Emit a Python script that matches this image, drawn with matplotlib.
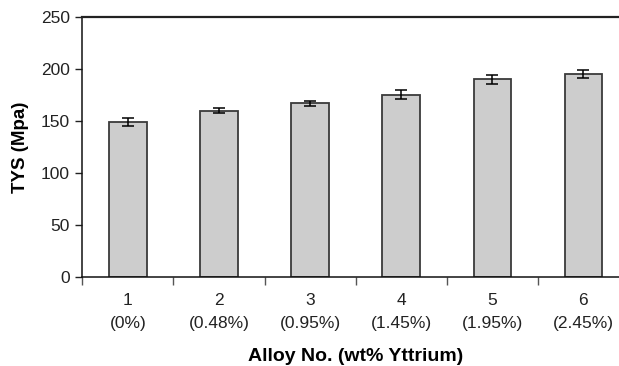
import numpy as np
import matplotlib.pyplot as plt
import matplotlib as mpl

mpl.rcParams['font.family'] = ['Liberation Sans', 'DejaVu Sans']

alloys = ['1', '2', '3', '4', '5', '6']
yttrium = ['0%', '0.48%', '0.95%', '1.45%', '1.95%', '2.45%']
tys = [149, 160, 167, 175, 190, 195]
tys_err = [4, 2.7, 2.5, 4.3, 4.3, 3.6]

fig = plt.figure(figsize=(6.19, 3.66), dpi=100)
# axes run slightly past the right edge of the figure
ax = fig.add_axes([82.3 / 619, 1 - 277.3 / 366, 546.6 / 619, 260.6 / 366])

x = np.arange(len(alloys))
ax.bar(x, tys, width=0.41, color='#cdcdcd', edgecolor='#3a3a3a', linewidth=1.3, zorder=2)
ax.errorbar(x, tys, yerr=tys_err, fmt='none', ecolor='black', elinewidth=1.1,
            capsize=4.5, capthick=1.1, zorder=3)

ax.set_xlim(-0.5, len(alloys) - 0.5)
ax.set_ylim(0, 250)
ax.set_yticks(range(0, 251, 50))

ax.set_xticks(x)
ax.set_xticklabels([a + '\n(' + p + ')' for a, p in zip(alloys, yttrium)], linespacing=1.7)
ax.set_xticks(np.arange(-0.5, len(alloys), 1), minor=True)
ax.tick_params(axis='x', which='major', length=0, pad=11, labelsize=12.5, colors='#222222')
ax.tick_params(axis='x', which='minor', length=6, width=1, direction='out', color='#555555')
ax.tick_params(axis='y', length=5, width=1, direction='out', labelsize=12.5, pad=4, colors='#222222')

ax.spines['right'].set_visible(False)
ax.spines['top'].set_linewidth(1.6)
ax.spines['top'].set_color('#222222')
for s in ['left', 'bottom']:
    ax.spines[s].set_linewidth(1.1)
    ax.spines[s].set_color('#111111')

ax.set_ylabel('TYS (Mpa)', fontsize=13.5, fontweight='bold', labelpad=8.5)
ax.set_xlabel('Alloy No. (wt% Yttrium)', fontsize=14, fontweight='bold', labelpad=12)

fig.savefig('out.png', dpi=100)
